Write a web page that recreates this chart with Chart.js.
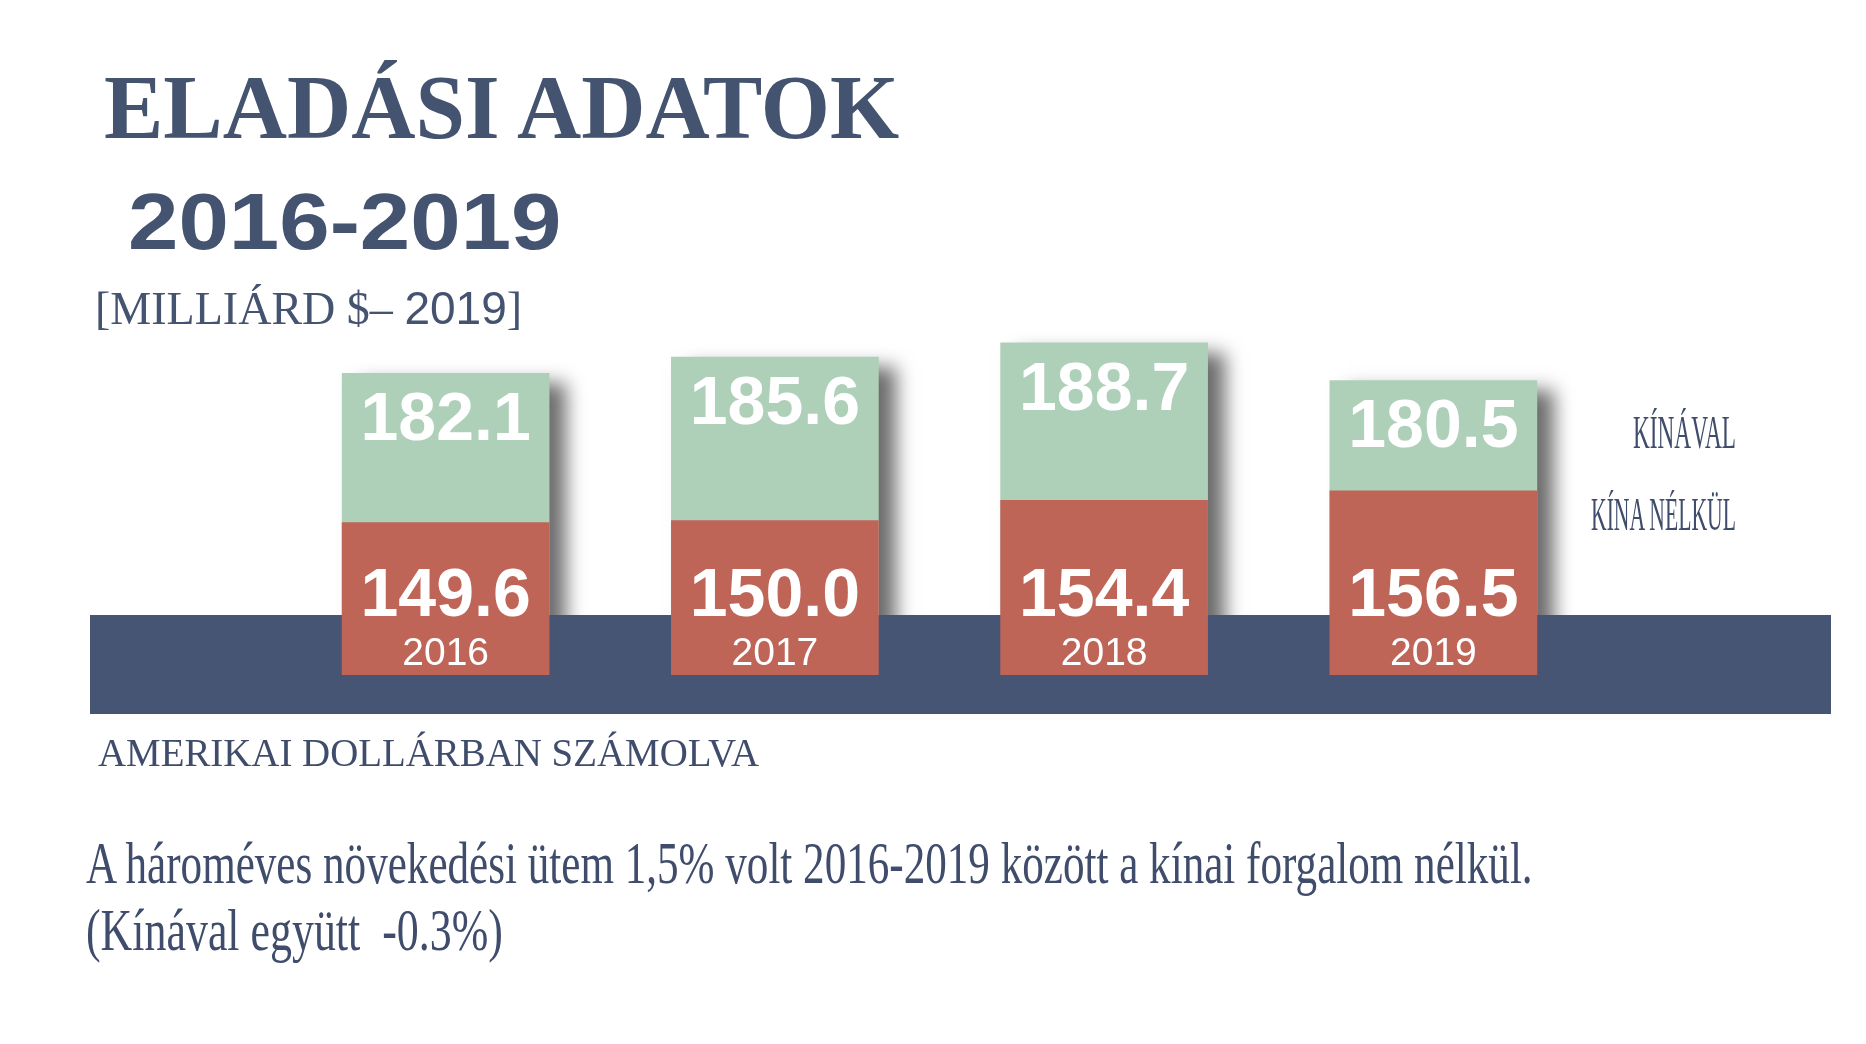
<!DOCTYPE html>
<html lang="hu">
<head>
<meta charset="utf-8">
<title>Eladási adatok 2016-2019</title>
<script src="https://cdn.jsdelivr.net/npm/chart.js@4.4.1/dist/chart.umd.min.js"></script>
<style>
  html, body { margin: 0; padding: 0; background: #fff; }
  #page { position: relative; width: 1866px; height: 1044px; overflow: hidden; }
  #band { position: absolute; left: 90px; top: 615px; width: 1741px; height: 99px; background: #465574; }
  #chart { position: absolute; left: 0; top: 0; }
  .txt { position: absolute; white-space: pre; line-height: 1; transform-origin: 0 0; color: #3f4c6b; }
  .serif { font-family: "Liberation Serif", "Times New Roman", serif; }
  .sans { font-family: "Liberation Sans", Arial, sans-serif; }
</style>
</head>
<body>
<div id="page">
  <div id="band"></div>
  <canvas id="chart" width="1866" height="1044"></canvas>

  <div class="txt serif" data-w="795" style="left:104px; top:61px; font-size:92px; font-weight:bold; color:#44536f;">ELADÁSI ADATOK</div>
  <div class="txt sans" data-w="434" style="left:128px; top:182px; font-size:80px; font-weight:bold; color:#44536f;">2016-2019</div>
  <div class="txt serif" data-w="427" style="left:95px; top:284px; font-size:47px; color:#44536f;">[MILLIÁRD $– <span class="sans">2019</span>]</div>

  <div class="txt serif legend" id="leg1" data-w="103" data-right="1736" style="top:409px; font-size:47px;"></div>
  <div class="txt serif legend" id="leg0" data-w="145" data-right="1736" style="top:492px; font-size:46px;"></div>

  <div class="txt serif" data-w="661" style="left:98px; top:733px; font-size:39px;">AMERIKAI DOLLÁRBAN SZÁMOLVA</div>
  <div class="txt serif" data-w="1447" style="left:86px; top:833px; font-size:60px;">A hároméves növekedési ütem 1,5% volt 2016-2019 között a kínai forgalom nélkül.</div>
  <div class="txt serif" data-w="417" style="left:86px; top:900px; font-size:60px;">(Kínával együtt  -0.3%)</div>
</div>

<script>
const years = ['2016', '2017', '2018', '2019'];
const withoutChina = [149.6, 150.0, 154.4, 156.5];
const withChina = [182.1, 185.6, 188.7, 180.5];
const seriesNames = ['KÍNA NÉLKÜL', 'KÍNÁVAL'];

const yMin = 116.4;
const yMax = 200;
const redColor = '#bf6558';
const greenColor = '#aecfb8';

document.getElementById('leg0').textContent = seriesNames[0];
document.getElementById('leg1').textContent = seriesNames[1];

// squeeze each text block to the width it has in the picture
document.querySelectorAll('.txt').forEach(function (el) {
    const target = parseFloat(el.dataset.w);
    const natural = el.offsetWidth;
    if (el.dataset.right) {
        el.style.left = (parseFloat(el.dataset.right) - target) + 'px';
    }
    el.style.transform = 'scaleX(' + (target / natural) + ')';
});

// soft drop shadow behind the tall (green) bars only
const barShadow = {
    id: 'barShadow',
    beforeDatasetDraw(chart, args) {
        if (args.index !== 1) return;
        const ctx = chart.ctx;
        ctx.save();
        ctx.shadowColor = 'rgba(0, 0, 0, 0.58)';
        ctx.shadowBlur = 18;
        ctx.shadowOffsetX = 17;
        ctx.shadowOffsetY = 10;
    },
    afterDatasetDraw(chart, args) {
        if (args.index !== 1) return;
        chart.ctx.restore();
    }
};

const barLabels = {
    id: 'barLabels',
    afterDatasetsDraw(chart) {
        const ctx = chart.ctx;
        const bottom = chart.chartArea.bottom;
        const red = chart.getDatasetMeta(0).data;
        const green = chart.getDatasetMeta(1).data;
        ctx.save();
        ctx.fillStyle = '#ffffff';
        ctx.textAlign = 'center';
        ctx.textBaseline = 'middle';
        ctx.font = 'bold 68px "Liberation Sans", Arial, sans-serif';
        green.forEach(function (bar, i) {
            ctx.fillText(withChina[i].toFixed(1), bar.x, bar.y + 48);
        });
        red.forEach(function (bar, i) {
            ctx.fillText(withoutChina[i].toFixed(1), bar.x, bottom - 78);
        });
        ctx.font = '39px "Liberation Sans", Arial, sans-serif';
        red.forEach(function (bar, i) {
            ctx.fillText(years[i], bar.x, bottom - 21);
        });
        ctx.restore();
    }
};

const chart = new Chart(document.getElementById('chart'), {
    type: 'bar',
    data: {
        labels: years,
        datasets: [{
            label: seriesNames[0],
            data: withoutChina,
            backgroundColor: redColor,
            base: yMin,
            grouped: false,
            barThickness: 207
        }, {
            label: seriesNames[1],
            data: withChina,
            backgroundColor: greenColor,
            base: yMin,
            grouped: false,
            barThickness: 207,
            // keep the shadow off the dark band (the red bar covers this part anyway)
            clip: { left: false, top: false, right: false, bottom: -60 }
        }]
    },
    options: {
        responsive: false,
        animation: false,
        layout: {
            padding: { top: 291, bottom: 369, left: 281, right: 268 }
        },
        plugins: {
            legend: { display: false },
            tooltip: { enabled: false }
        },
        scales: {
            x: { display: false },
            y: { display: false, min: yMin, max: yMax }
        }
    },
    plugins: [barShadow, barLabels]
});
</script>
</body>
</html>
